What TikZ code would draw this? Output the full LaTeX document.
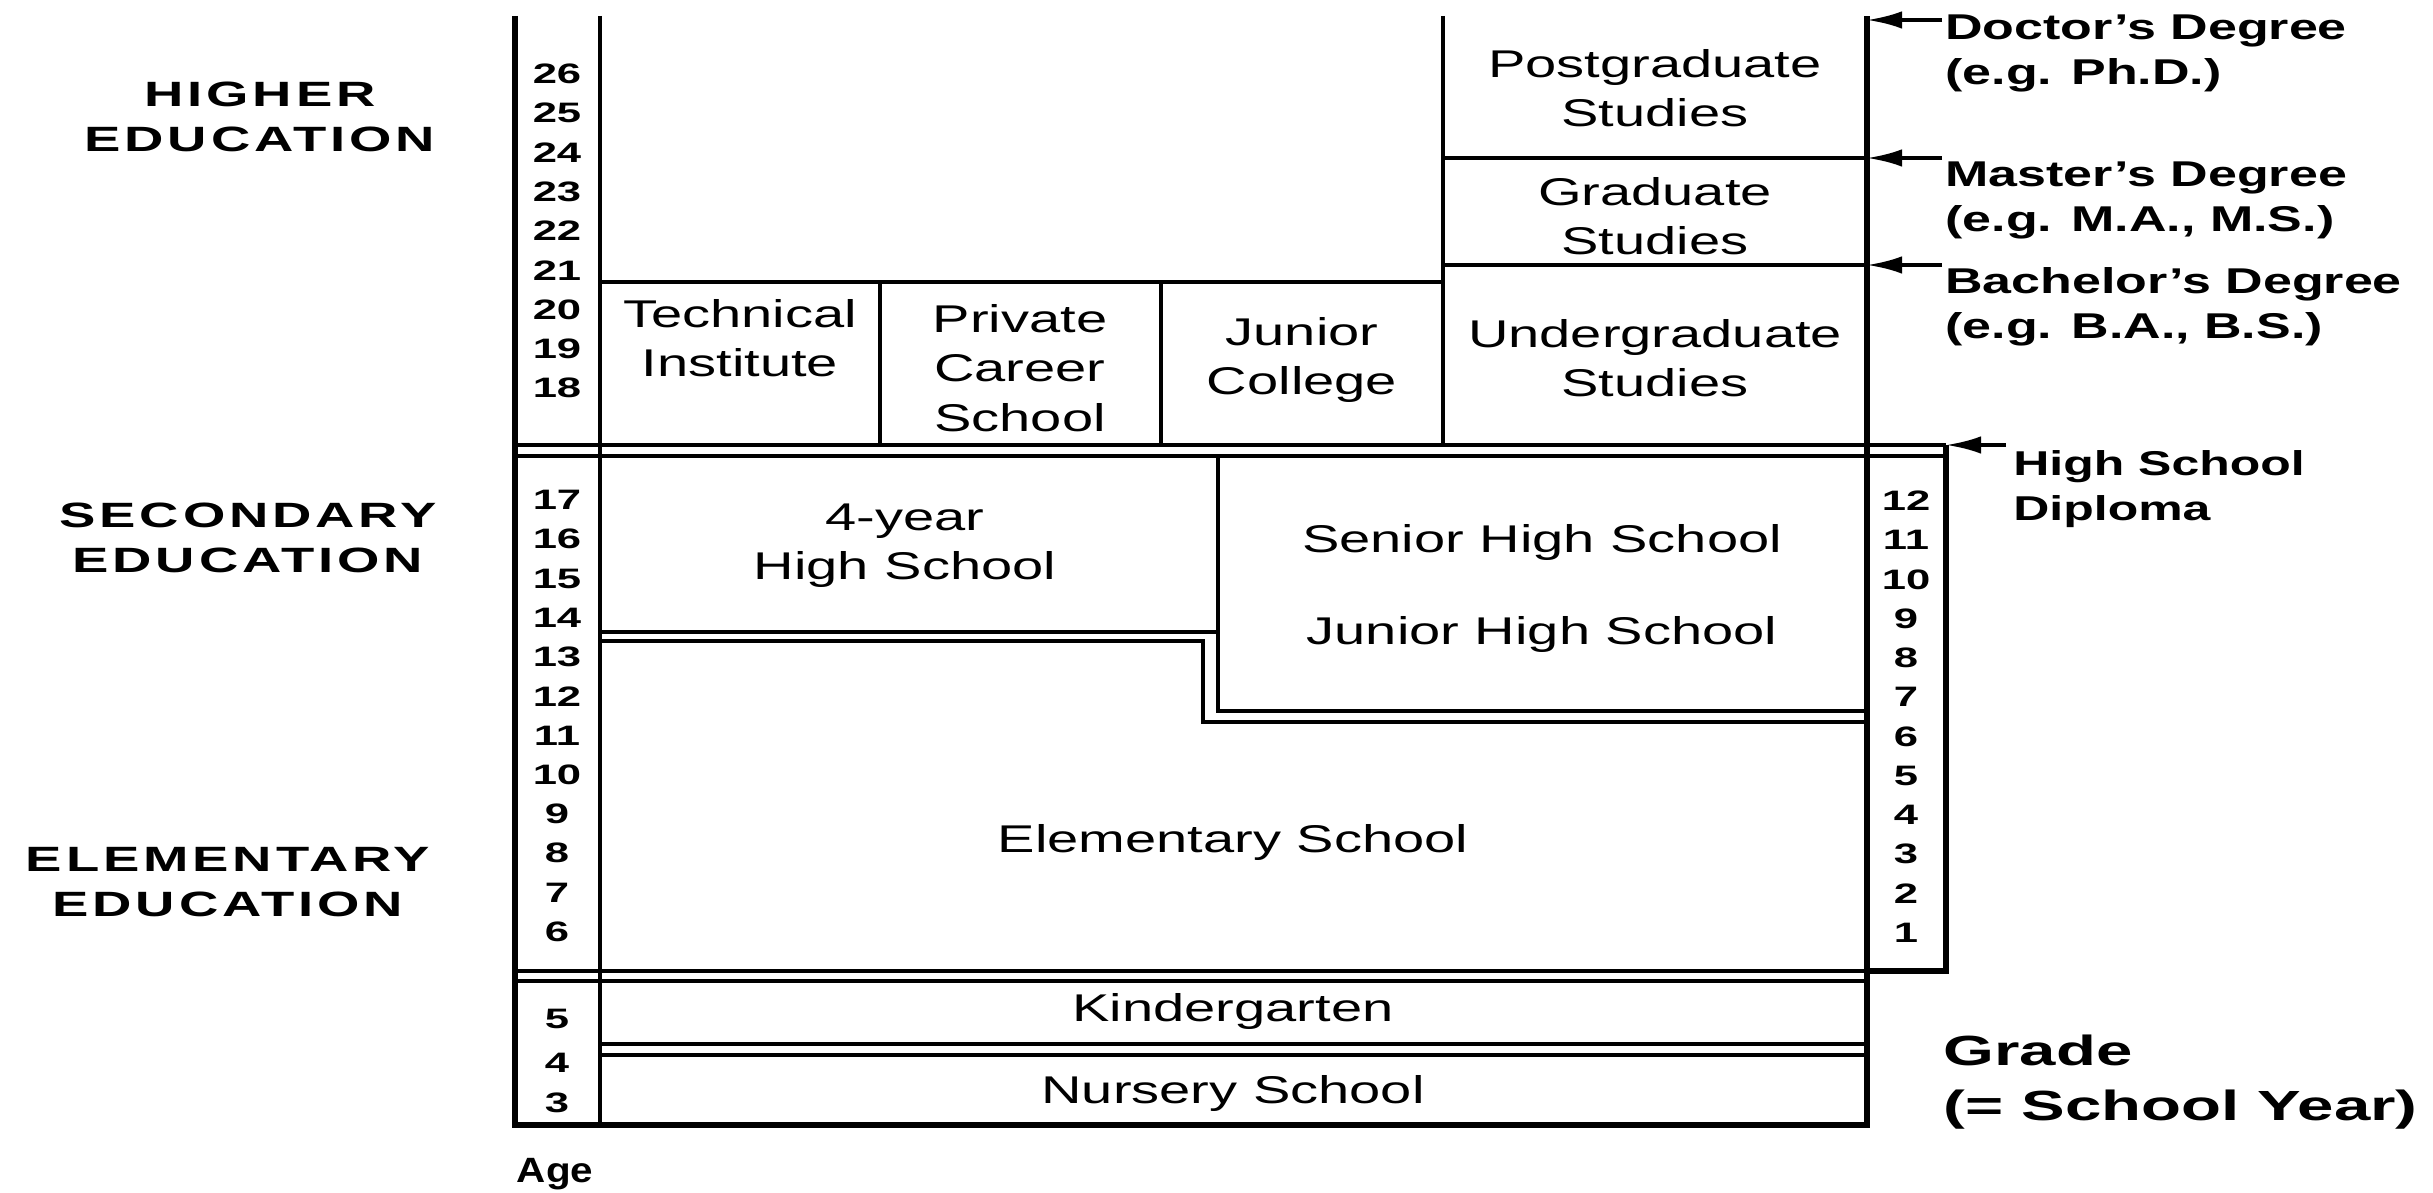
\documentclass[tikz,border=0pt]{standalone}
\usepackage{fontspec}
\setmainfont{Liberation Sans}[FakeStretch=1.45]
\newfontfamily\headfont{Liberation Sans}[FakeStretch=1.55,LetterSpace=11]
\newfontfamily\widefont{Liberation Sans}[FakeStretch=1.55]
\newfontfamily\narrowfont{Liberation Sans}[FakeStretch=1.15]
\usetikzlibrary{arrows.meta}

\tikzset{
  rule/.style={line width=1.1pt},
  heavy/.style={line width=1.6pt},
  school/.style={align=center, font=\fontsize{11}{14}\selectfont},
  agenum/.style={font=\widefont\bfseries\fontsize{8}{9}\selectfont},
  degree/.style={anchor=west, align=left, font=\fontsize{10.2}{12.8}\selectfont\bfseries},
  level/.style={align=center, font=\headfont\bfseries\fontsize{10}{13}\selectfont},
  award/.style={-{Latex[length=10pt,width=5pt]}, line width=1.1pt},
}

\begin{document}
\begin{tikzpicture}
\useasboundingbox (0,0) rectangle (24.33,-11.93);

% outer frame and age column
\draw[heavy] (5.15,-0.16) -- (5.15,-11.25) -- (18.67,-11.25) -- (18.67,-0.16);
\draw[rule] (6.00,-0.16) -- (6.00,-11.25);

% higher education
\draw[rule] (14.43,-0.16) -- (14.43,-4.45);
\draw[rule] (14.43,-1.58) -- (18.67,-1.58);
\draw[rule] (14.43,-2.65) -- (18.67,-2.65);
\draw[rule] (6.00,-2.82) -- (14.43,-2.82);
\draw[rule] (8.80,-2.82) -- (8.80,-4.45);
\draw[rule] (11.61,-2.82) -- (11.61,-4.45);
\draw[rule] (5.15,-4.45) -- (19.46,-4.45);
\draw[rule] (5.15,-4.56) -- (19.46,-4.56);

% grade column
\draw[heavy] (19.46,-4.45) -- (19.46,-9.71) -- (18.67,-9.71);

% secondary
\draw[rule] (12.18,-4.56) -- (12.18,-7.11) -- (18.67,-7.11);
\draw[rule] (6.00,-6.32) -- (12.18,-6.32);
\draw[rule] (6.00,-6.41) -- (12.03,-6.41) -- (12.03,-7.22) -- (18.67,-7.22);

% elementary and pre-school
\draw[rule] (5.15,-9.71) -- (18.67,-9.71);
\draw[rule] (5.15,-9.81) -- (18.67,-9.81);
\draw[rule] (6.00,-10.44) -- (18.67,-10.44);
\draw[rule] (6.00,-10.55) -- (18.67,-10.55);

% schools
\node[school] (tech) at (7.40,-3.38) {Technical\\Institute};
\node[school] (career) at (10.20,-3.68) {Private\\Career\\School};
\node[school] (jcollege) at (13.02,-3.60) {Junior\\College};
\node[school] (undergrad) at (16.55,-3.58) {Undergraduate\\Studies};
\node[school] (grad) at (16.55,-2.16) {Graduate\\Studies};
\node[school] (postgrad) at (16.55,-0.88) {Postgraduate\\Studies};
\node[school] (fouryear) at (9.05,-5.46) {4-year\\High School};
\node[school] (senior) at (15.42,-5.43) {Senior High School};
\node[school] (juniorhigh) at (15.42,-6.35) {Junior High School};
\node[school] (elementary) at (12.33,-8.43) {Elementary School};
\node[school] (kinder) at (12.33,-10.12) {Kindergarten};
\node[school] (nursery) at (12.33,-10.94) {Nursery School};

% ages and grades
\foreach \n [count=\i from 0] in {26,25,...,18}
  \node[agenum] (age\n) at (5.57,-0.74-0.3925*\i) {\n};
\foreach \n [count=\i from 0] in {17,16,...,6}
  \node[agenum] (age\n) at (5.57,-5.00-0.3925*\i) {\n};
\node[agenum] (age5) at (5.57,-10.19) {5};
\node[agenum] (age4) at (5.57,-10.63) {4};
\node[agenum] (age3) at (5.57,-11.03) {3};
\foreach \n [count=\i from 0] in {12,11,...,1}
  \node[agenum] (grade\n) at (19.06,-5.01-0.3925*\i) {\n};

% education levels
\node[level] (higher) at (2.60,-1.17) {HIGHER\\EDUCATION};
\node[level] (secondary) at (2.48,-5.38) {SECONDARY\\EDUCATION};
\node[level] (elemlevel) at (2.28,-8.82) {ELEMENTARY\\EDUCATION};

% degrees
\node[degree] (doctor) at (19.33,-0.53) {Doctor's Degree\\(e.g. Ph.D.)};
\node[degree] (master) at (19.33,-2.00) {Master's Degree\\(e.g. M.A., M.S.)};
\node[degree] (bachelor) at (19.33,-3.07) {Bachelor's Degree\\(e.g. B.A., B.S.)};
\node[degree, font=\fontsize{9.8}{12.8}\selectfont\bfseries] (diploma) at (20.01,-4.89) {High School\\Diploma};
\node[degree, font=\widefont\bfseries\fontsize{12}{15.5}\selectfont] (grade) at (19.31,-10.82) {Grade\\(= School Year)};
\node[font=\narrowfont\bfseries\fontsize{10}{12}\selectfont] (agelabel) at (5.55,-11.74) {Age};

\coordinate (phd) at (18.67,-0.20);
\coordinate (ma) at (18.67,-1.58);
\coordinate (ba) at (18.67,-2.65);
\coordinate (hs) at (19.46,-4.45);
\coordinate (phdfrom) at (19.42,-0.20);
\coordinate (mafrom) at (19.42,-1.58);
\coordinate (bafrom) at (19.42,-2.65);
\coordinate (hsfrom) at (20.06,-4.45);
\draw[award] (phdfrom) -- (phd);
\draw[award] (mafrom) -- (ma);
\draw[award] (bafrom) -- (ba);
\draw[award] (hsfrom) -- (hs);

\end{tikzpicture}
\end{document}
